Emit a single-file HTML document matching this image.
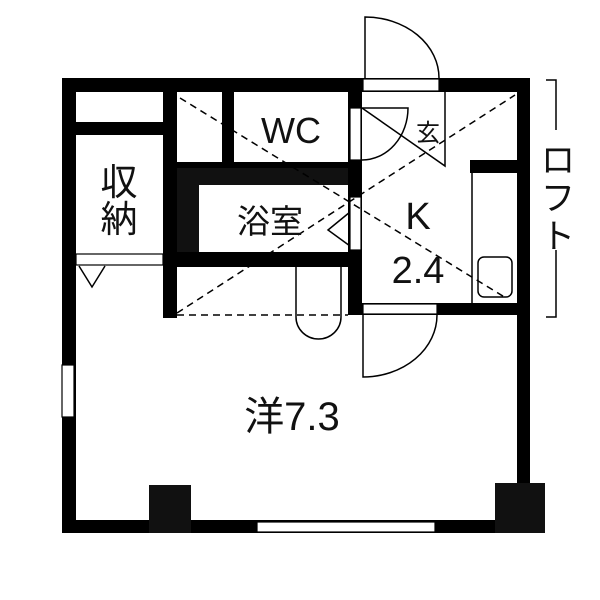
<!DOCTYPE html>
<html><head><meta charset="utf-8"><style>
html,body{margin:0;padding:0;background:#fff;}
svg{display:block;}
text{font-family:"Liberation Sans","Noto Sans CJK JP",sans-serif;fill:#111;}
</style></head><body>
<svg width="600" height="600" viewBox="0 0 600 600" xmlns="http://www.w3.org/2000/svg">
<g fill="#000">
<rect x="62" y="78" width="468" height="14"/>
<rect x="62" y="78" width="14" height="455"/>
<rect x="62" y="520" width="483" height="13"/>
<rect x="517" y="78" width="13" height="410"/>
<rect x="149" y="485" width="42" height="48" fill="#111"/>
<rect x="495" y="483" width="50" height="50" fill="#111"/>
<rect x="76" y="122" width="90" height="13"/>
<rect x="163" y="92" width="14" height="226"/>
<rect x="222" y="92" width="12" height="78"/>
<rect x="177" y="162" width="185" height="8"/>
<rect x="177" y="168" width="178" height="17" fill="#111"/>
<rect x="177" y="168" width="22" height="90" fill="#111"/>
<rect x="177" y="252" width="185" height="15"/>
<rect x="348" y="78" width="14" height="237"/>
<rect x="470" y="160" width="47" height="13"/>
<rect x="348" y="303" width="182" height="12"/>
</g>
<g fill="#fff" stroke="#000" stroke-width="1.2">
<rect x="363" y="79" width="76" height="12"/>
<rect x="350" y="108" width="11" height="52"/>
<rect x="350" y="197" width="11" height="53"/>
<rect x="363" y="304" width="74" height="10"/>
<rect x="76" y="254" width="87" height="11"/>
<rect x="62" y="365" width="12" height="52"/>
<rect x="257" y="522" width="178" height="10"/>
</g>
<g fill="none" stroke="#000" stroke-width="1.5">
<path d="M365 78 V17 A74 61 0 0 1 439 78"/>
<path d="M363 315 V377 A74 62 0 0 0 437 315"/>
<path d="M362 108 H408 A46 52 0 0 1 362 160"/>
<path d="M362 108 L445 166 V92"/>
<path d="M350 212 L328 230 L350 246"/>
<path d="M79 266 L92 287 L105 266"/>
<path d="M296 267 V317 A22.5 22 0 0 0 341 317 V267"/>
<path d="M472 173 V303"/>
<rect x="478" y="257" width="34" height="40" rx="6"/>
<path d="M546 80 H556 V130 M556 250 V317 H546"/>
</g>
<g fill="none" stroke="#000" stroke-width="1.5" stroke-dasharray="7,5">
<path d="M180 98 L506 298"/>
<path d="M177 313 L515 95"/>
<path d="M177 315 H348"/>
</g>
<text x="291" y="143" font-size="36" text-anchor="middle">WC</text>
<text x="119" y="195" font-size="37" text-anchor="middle">収</text>
<text x="119" y="232" font-size="37" text-anchor="middle">納</text>
<text x="270" y="233" font-size="33" text-anchor="middle">浴室</text>
<text x="428" y="141" font-size="24" text-anchor="middle">玄</text>
<text x="418" y="229" font-size="38" text-anchor="middle">K</text>
<text x="418" y="283" font-size="38" text-anchor="middle">2.4</text>
<text x="292" y="430" font-size="40" text-anchor="middle">洋7.3</text>
<text x="558" y="172" font-size="34" text-anchor="middle">ロ</text>
<text x="558" y="210" font-size="34" text-anchor="middle">フ</text>
<text x="558" y="248" font-size="34" text-anchor="middle">ト</text>
</svg>
</body></html>
